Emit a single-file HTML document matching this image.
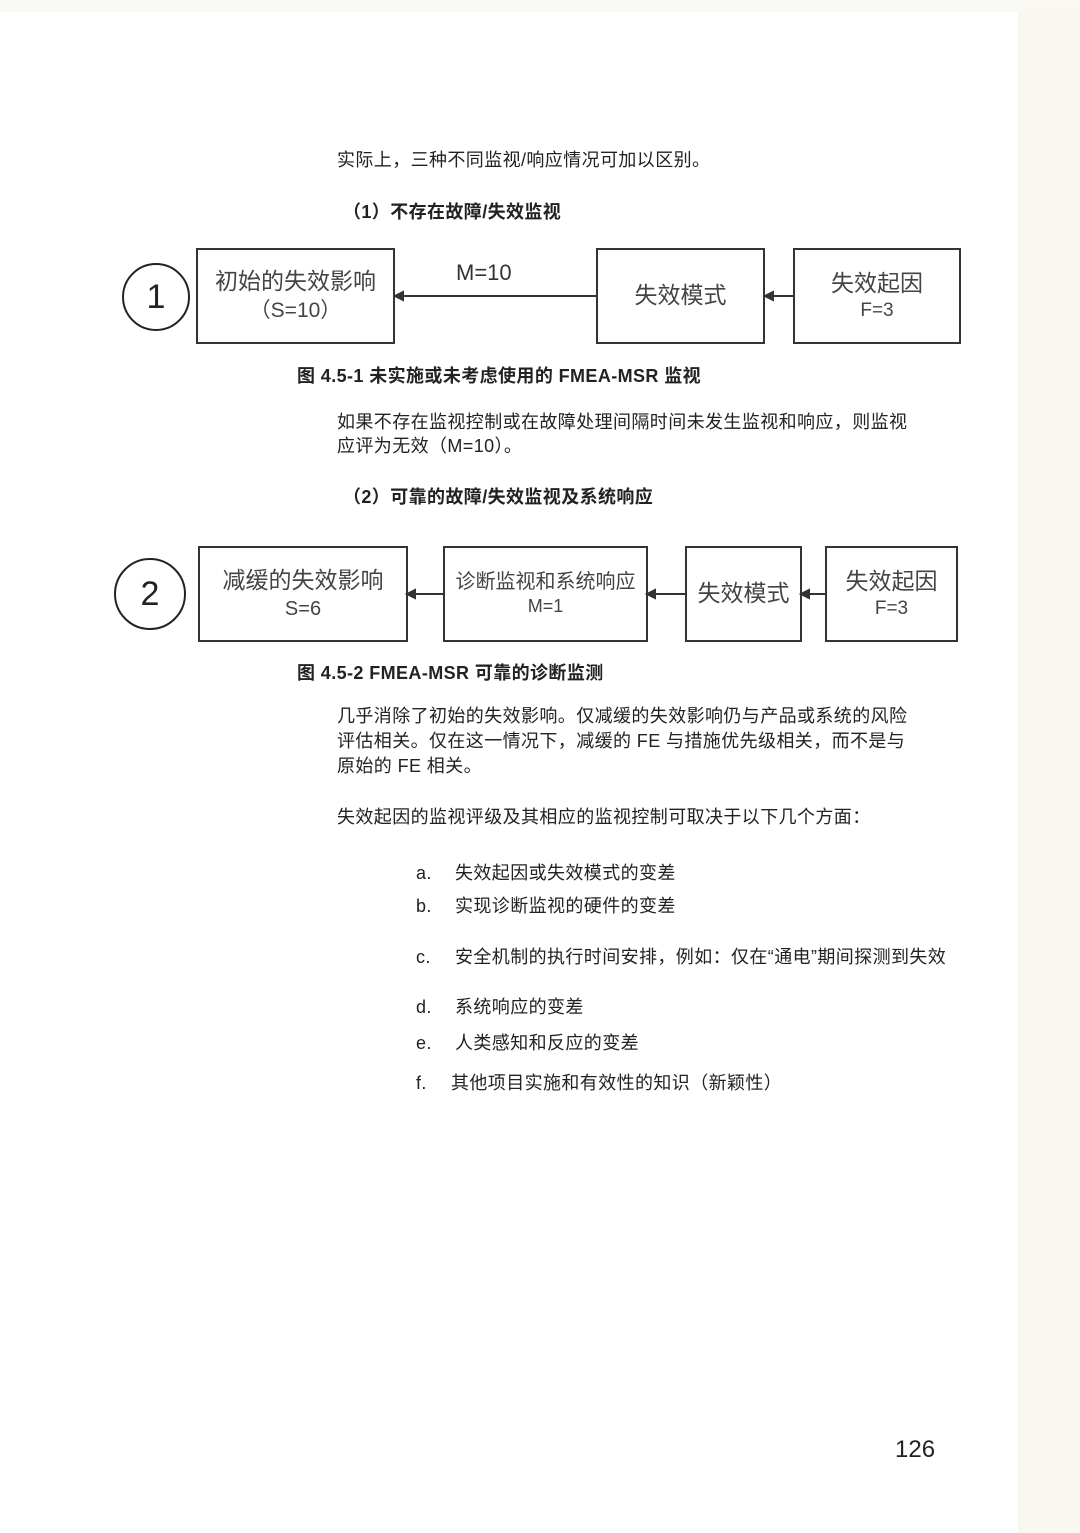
<!DOCTYPE html>
<html><head><meta charset="utf-8"><style>
body{margin:0;width:1080px;height:1533px;background:#fff;position:relative;overflow:hidden;font-family:"Liberation Sans","Noto Sans CJK SC",sans-serif;color:#222}
.t{position:absolute;font-size:18px;letter-spacing:0.4px;white-space:nowrap;line-height:1}
.b{position:absolute;border:2.5px solid #333;box-sizing:border-box;display:flex;flex-direction:column;align-items:center;justify-content:center;font-size:23px;color:#444;line-height:1.3;text-align:center}
.c{position:absolute;border:2.5px solid #222;border-radius:50%;box-sizing:border-box;display:flex;align-items:center;justify-content:center;font-size:34px}
.strip{position:absolute;left:1018px;top:0;width:62px;height:1533px;background:#f8f7f2}
</style></head><body>
<div class="strip"></div>
<div style="position:absolute;left:0;top:0;width:1080px;height:12px;background:#f9f8f3"></div>
<div class="t" style="left:337px;top:151px">实际上，三种不同监视/响应情况可加以区别。</div>
<div class="t" style="left:343px;top:203px;font-weight:bold">（1）不存在故障/失效监视</div>
<div class="c" style="left:122px;top:263px;width:68px;height:68px">1</div>
<div class="b" style="left:196px;top:248px;width:199px;height:96px"><div>初始的失效影响</div><div style="font-size:21px">（S=10）</div></div>
<div class="t" style="left:456px;top:262px;font-size:22px;color:#333;letter-spacing:0">M=10</div>
<div class="b" style="left:596px;top:248px;width:169px;height:96px">失效模式</div>
<div class="b" style="left:793px;top:248px;width:168px;height:96px"><div>失效起因</div><div style="font-size:19px">F=3</div></div>
<svg style="position:absolute;left:0;top:0" width="1080" height="700">
<g stroke="#333" stroke-width="2" fill="#333">
<line x1="400" y1="296" x2="596" y2="296"/><polygon points="395,296 403,292 403,300"/>
<line x1="770" y1="296" x2="793" y2="296"/><polygon points="765,296 773,292 773,300"/>
<line x1="412" y1="594" x2="443" y2="594"/><polygon points="407,594 415,590 415,598"/>
<line x1="652" y1="594" x2="685" y2="594"/><polygon points="647,594 655,590 655,598"/>
<line x1="806" y1="594" x2="825" y2="594"/><polygon points="801,594 809,590 809,598"/>
</g></svg>
<div class="t" style="left:297px;top:367px;font-weight:bold">图 4.5-1 未实施或未考虑使用的 FMEA-MSR 监视</div>
<div class="t" style="left:337px;top:413px">如果不存在监视控制或在故障处理间隔时间未发生监视和响应，则监视</div>
<div class="t" style="left:337px;top:437px">应评为无效（M=10）。</div>
<div class="t" style="left:343px;top:488px;font-weight:bold">（2）可靠的故障/失效监视及系统响应</div>
<div class="c" style="left:114px;top:558px;width:72px;height:72px">2</div>
<div class="b" style="left:198px;top:546px;width:210px;height:96px"><div>减缓的失效影响</div><div style="font-size:20px">S=6</div></div>
<div class="b" style="left:443px;top:546px;width:205px;height:96px;font-size:20px"><div>诊断监视和系统响应</div><div style="font-size:18px">M=1</div></div>
<div class="b" style="left:685px;top:546px;width:117px;height:96px">失效模式</div>
<div class="b" style="left:825px;top:546px;width:133px;height:96px"><div>失效起因</div><div style="font-size:19px">F=3</div></div>
<div class="t" style="left:297px;top:664px;font-weight:bold">图 4.5-2 FMEA-MSR 可靠的诊断监测</div>
<div class="t" style="left:337px;top:707px">几乎消除了初始的失效影响。仅减缓的失效影响仍与产品或系统的风险</div>
<div class="t" style="left:337px;top:732px">评估相关。仅在这一情况下，减缓的 FE 与措施优先级相关，而不是与</div>
<div class="t" style="left:337px;top:757px">原始的 FE 相关。</div>
<div class="t" style="left:337px;top:808px">失效起因的监视评级及其相应的监视控制可取决于以下几个方面：</div>
<div class="t" style="left:416px;top:864px">a.</div><div class="t" style="left:455px;top:864px">失效起因或失效模式的变差</div>
<div class="t" style="left:416px;top:897px">b.</div><div class="t" style="left:455px;top:897px">实现诊断监视的硬件的变差</div>
<div class="t" style="left:416px;top:948px">c.</div><div class="t" style="left:455px;top:948px">安全机制的执行时间安排，例如：仅在“通电”期间探测到失效</div>
<div class="t" style="left:416px;top:998px">d.</div><div class="t" style="left:455px;top:998px">系统响应的变差</div>
<div class="t" style="left:416px;top:1034px">e.</div><div class="t" style="left:455px;top:1034px">人类感知和反应的变差</div>
<div class="t" style="left:416px;top:1074px">f.</div><div class="t" style="left:451px;top:1074px">其他项目实施和有效性的知识（新颖性）</div>
<div class="t" style="left:895px;top:1438px;font-size:24px;letter-spacing:0">126</div>
</body></html>
